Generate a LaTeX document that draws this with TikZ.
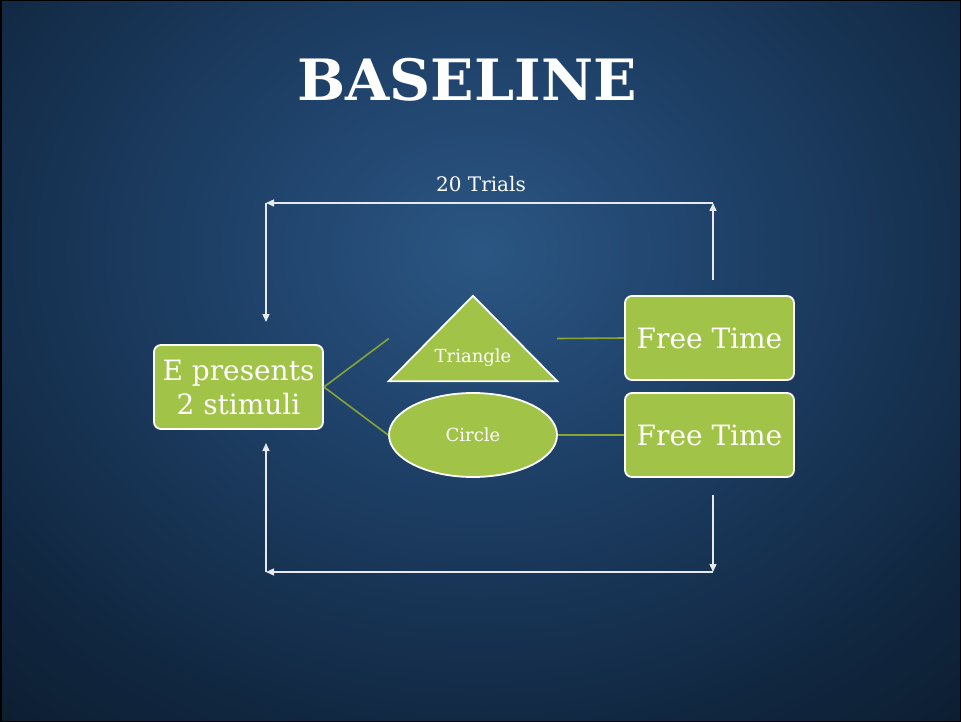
\documentclass[tikz,border=0pt]{standalone}
\usepackage{fontspec}
\setmainfont{DejaVu Serif}
\usetikzlibrary{arrows.meta,shapes.geometric}

\definecolor{bgA}{HTML}{2B5683}
\definecolor{bgB}{HTML}{1F426A}
\definecolor{bgC}{HTML}{112842}
\definecolor{bgD}{HTML}{091625}
\definecolor{bgE}{HTML}{040A13}
\definecolor{leaf}{HTML}{A1C348}
\definecolor{stem}{HTML}{86A536}
\definecolor{loopline}{HTML}{E6EAEE}

\pgfdeclareradialshading{slidebg}{\pgfpoint{0bp}{0bp}}{%
  color(0bp)=(bgA); color(10bp)=(bgB); color(24bp)=(bgC);
  color(36bp)=(bgD); color(50bp)=(bgE)}

\tikzset{
  greenbox/.style={draw=white, line width=1.8pt, fill=leaf, rounded corners=7pt,
    minimum width=169pt, minimum height=84pt, align=center, text=white,
    font=\fontsize{28}{36}\selectfont, inner sep=2pt},
  shapefill/.style={draw=white, line width=1.8pt, fill=leaf},
  shapetext/.style={text=white, font=\fontsize{18}{22}\selectfont},
  link/.style={draw=stem, line width=1.6pt},
  cycleline/.style={draw=loopline, line width=1.4pt,
    -{Triangle[width=7pt,length=8pt]}},
}

\begin{document}
\begin{tikzpicture}[x=1pt,y=-1pt]
  % background
  \useasboundingbox (0,0) rectangle (961,722);
  \begin{scope}
    \clip (0,0) rectangle (961,722);
    \shade[shading=slidebg] (-120,-250) rectangle (1081,752);
  \end{scope}
  \draw[black, line width=3pt] (0,0) rectangle (961,722);

  % title
  \node[text=white, font=\fontsize{57}{57}\bfseries\selectfont] (title) at (467,80) {BASELINE};

  % boxes and shapes
  \node[greenbox] (ep) at (238.5,387) {E presents\\[-2pt]2 stimuli};
  \node[greenbox] (ft1) at (709.5,338) {Free Time};
  \node[greenbox] (ft2) at (709.5,435) {Free Time};

  \node[minimum width=168pt, minimum height=85pt, inner sep=0pt] (tri) at (473,338.5) {};
  \draw[shapefill] (tri.north) -- (tri.south east) -- (tri.south west) -- cycle;
  \node[shapetext] (trilabel) at (473,358) {Triangle};

  \node[ellipse, shapefill, minimum width=168pt, minimum height=84pt, inner sep=0pt,
    shapetext] (circ) at (473,435) {Circle};

  % connectors between shapes
  \draw[link] (ep.east) -- (tri.west);
  \draw[link] (ep.east) -- (circ.west);
  \draw[link] (tri.east) -- (ft1.west);
  \draw[link] (circ.east) -- (ft2.west);

  % repeat loop
  \coordinate (rtop0) at (713,280);
  \coordinate (rtop) at (713,203);
  \coordinate (ltop) at (266,203);
  \coordinate (lin) at (266,322);
  \coordinate (lin2) at (266,443);
  \coordinate (lbot) at (266,572);
  \coordinate (rbot) at (713,572);
  \coordinate (rbot0) at (713,495);

  \draw[cycleline] (rtop0) -- (rtop);
  \draw[cycleline] (rtop) -- (ltop);
  \draw[cycleline] (ltop) -- (lin);
  \draw[cycleline] (rbot0) -- (rbot);
  \draw[cycleline] (rbot) -- (lbot);
  \draw[cycleline] (lbot) -- (lin2);

  \node[text=white, font=\fontsize{20}{24}\selectfont] (trials) at (481,184) {20 Trials};
\end{tikzpicture}
\end{document}
